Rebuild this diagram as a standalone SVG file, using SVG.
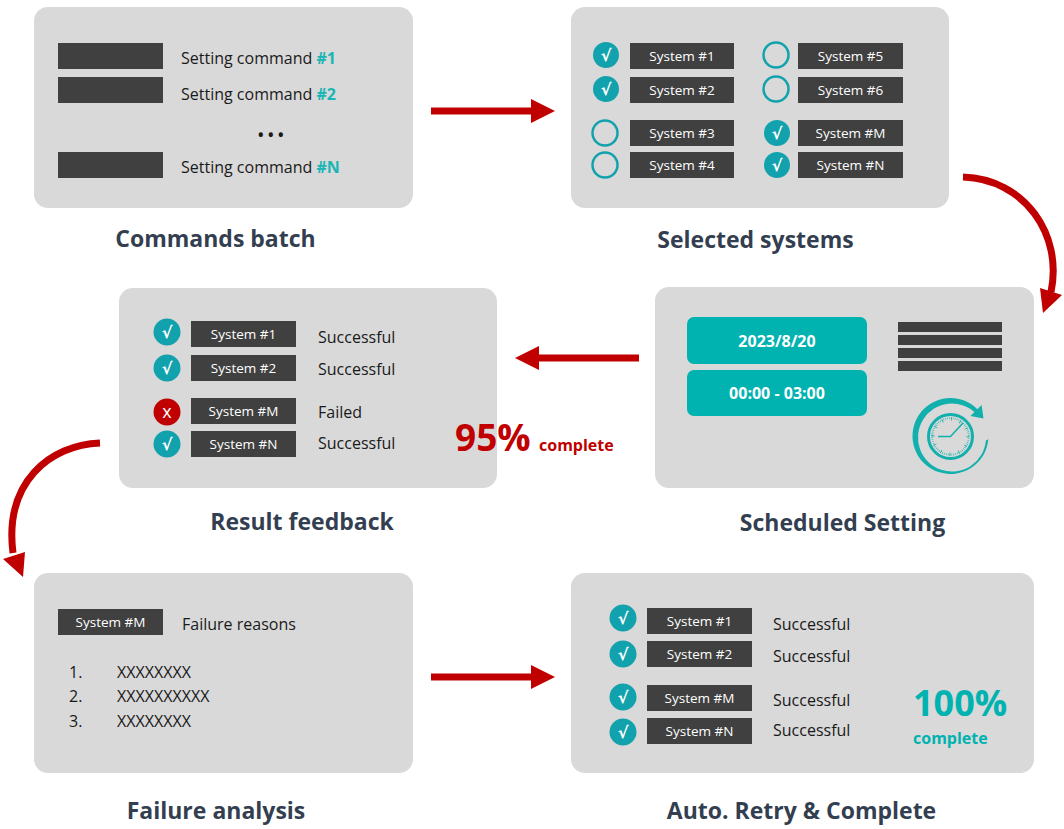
<svg xmlns="http://www.w3.org/2000/svg" width="1064" height="829" viewBox="0 0 1064 829">
<style>
.panel{fill:#d9d9d9}
.bar{fill:#404040}
.body{font-family:"Open Sans","Liberation Sans",sans-serif;font-size:16px;fill:#1a1a1a}
.hash{font-weight:bold;fill:#1ab5b5}
.sys{font-family:"Open Sans","Liberation Sans",sans-serif;font-size:13.5px;fill:#ffffff;text-anchor:middle}
.head{font-family:"Open Sans","Liberation Sans",sans-serif;font-size:23px;font-weight:bold;fill:#333f50;text-anchor:middle}
.on{fill:#12a2ad}
.off{fill:none;stroke:#12a2ad;stroke-width:2.5}
.mark{font-family:"DejaVu Sans","Liberation Sans",sans-serif;font-size:16px;font-weight:bold;fill:#ffffff;text-anchor:middle}
.red{fill:#c00000}
.redline{fill:none;stroke:#c00000;stroke-width:7}
.teal{fill:#00b3b0}
.dtext{font-family:"Open Sans","Liberation Sans",sans-serif;font-size:16px;font-weight:bold;fill:#ffffff;text-anchor:middle}
</style>

<g id="node-commands-batch">
<rect class="panel" x="34" y="7" width="379" height="201" rx="14"/>
<rect class="bar" x="58" y="43" width="105" height="26"/>
<rect class="bar" x="58" y="77" width="105" height="26"/>
<rect class="bar" x="58" y="152" width="105" height="26"/>
<text class="body" x="181" y="64">Setting command <tspan class="hash">#1</tspan></text>
<text class="body" x="181" y="100">Setting command <tspan class="hash">#2</tspan></text>
<text class="body" x="257" y="142" style="font-size:20px;letter-spacing:2.5px">•••</text>
<text class="body" x="181" y="173">Setting command <tspan class="hash">#N</tspan></text>
<text class="head" x="215.5" y="247">Commands batch</text>
</g>

<g id="node-selected-systems">
<rect class="panel" x="571" y="7" width="378" height="201" rx="14"/>
<circle class="on" cx="606" cy="55" r="13"/><text class="mark" x="606" y="61">√</text>
<circle class="on" cx="606" cy="89" r="13"/><text class="mark" x="606" y="95">√</text>
<circle class="off" cx="605" cy="133" r="12.5"/>
<circle class="off" cx="605" cy="165" r="12.5"/>
<circle class="off" cx="776" cy="55" r="12.5"/>
<circle class="off" cx="776" cy="89" r="12.5"/>
<circle class="on" cx="777" cy="133" r="13"/><text class="mark" x="777" y="139">√</text>
<circle class="on" cx="777" cy="165" r="13"/><text class="mark" x="777" y="171">√</text>
<rect class="bar" x="630" y="43" width="104" height="26"/><text class="sys" x="682" y="61">System #1</text>
<rect class="bar" x="630" y="77" width="104" height="26"/><text class="sys" x="682" y="95">System #2</text>
<rect class="bar" x="630" y="120" width="104" height="26"/><text class="sys" x="682" y="138">System #3</text>
<rect class="bar" x="630" y="152" width="104" height="26"/><text class="sys" x="682" y="170">System #4</text>
<rect class="bar" x="798" y="43" width="105" height="26"/><text class="sys" x="850.5" y="61">System #5</text>
<rect class="bar" x="798" y="77" width="105" height="26"/><text class="sys" x="850.5" y="95">System #6</text>
<rect class="bar" x="798" y="120" width="105" height="26"/><text class="sys" x="850.5" y="138">System #M</text>
<rect class="bar" x="798" y="152" width="105" height="26"/><text class="sys" x="850.5" y="170">System #N</text>
<text class="head" x="755.5" y="248">Selected systems</text>
</g>

<g id="node-scheduled-setting">
<rect class="panel" x="655" y="287" width="379" height="201" rx="14"/>
<rect class="teal" x="687" y="317" width="180" height="47" rx="7"/>
<text class="dtext" x="777" y="347">2023/8/20</text>
<rect class="teal" x="687" y="370" width="180" height="46" rx="7"/>
<text class="dtext" x="777" y="399">00:00 - 03:00</text>
<rect class="bar" x="898" y="322" width="104" height="10"/>
<rect class="bar" x="898" y="335" width="104" height="10"/>
<rect class="bar" x="898" y="348" width="104" height="10"/>
<rect class="bar" x="898" y="361" width="104" height="10"/>
<path fill="#12b0ad" d="M988.35,439.31 A38,38 0 1 1 977.37,409.13 L976.04,413.46 A34,34 0 1 0 985.87,440.46 Z"/>
<polygon fill="#12b0ad" points="981.6,404.9 970.4,416.1 983.5,418.5"/>
<circle cx="950.5" cy="436.5" r="22" fill="none" stroke="#12b0ad" stroke-width="3"/>
<circle cx="950.5" cy="436.5" r="18.3" fill="none" stroke="#12b0ad" stroke-width="1.8" stroke-dasharray="0.6 1.316"/>
<circle cx="950.5" cy="436.5" r="17.5" fill="none" stroke="#12b0ad" stroke-width="3.5" stroke-dasharray="0.8 8.363"/>
<path d="M938,436.5 L950.5,436.5 L963,423" fill="none" stroke="#12b0ad" stroke-width="1.6"/>
<text class="head" x="842.5" y="531">Scheduled Setting</text>
</g>

<g id="node-result-feedback">
<rect class="panel" x="119" y="288" width="378" height="200" rx="14"/>
<circle class="on" cx="167" cy="332" r="13.5"/><text class="mark" x="167" y="338">√</text>
<circle class="on" cx="167" cy="368" r="13.5"/><text class="mark" x="167" y="374">√</text>
<circle class="red" cx="167" cy="412" r="13.5"/><text class="mark" x="167" y="418" style="font-family:'Open Sans','Liberation Sans',sans-serif;font-weight:normal;font-size:18px">x</text>
<circle class="on" cx="167" cy="444" r="13.5"/><text class="mark" x="167" y="450">√</text>
<rect class="bar" x="191" y="321" width="105" height="26"/><text class="sys" x="243.5" y="339">System #1</text>
<rect class="bar" x="191" y="355" width="105" height="26"/><text class="sys" x="243.5" y="373">System #2</text>
<rect class="bar" x="191" y="398" width="105" height="26"/><text class="sys" x="243.5" y="416">System #M</text>
<rect class="bar" x="191" y="431" width="105" height="26"/><text class="sys" x="243.5" y="449">System #N</text>
<text class="body" x="318" y="343">Successful</text>
<text class="body" x="318" y="375">Successful</text>
<text class="body" x="318" y="418">Failed</text>
<text class="body" x="318" y="449">Successful</text>
<text x="455" y="451" style="font-family:'Open Sans','Liberation Sans',sans-serif;font-weight:bold;font-size:37px;fill:#c00000">95%</text>
<text x="539" y="451" style="font-family:'Open Sans','Liberation Sans',sans-serif;font-weight:bold;font-size:16px;fill:#c00000">complete</text>
<text class="head" x="302" y="530">Result feedback</text>
</g>

<g id="node-failure-analysis">
<rect class="panel" x="34" y="573" width="379" height="200" rx="14"/>
<rect class="bar" x="58" y="609" width="105" height="26"/><text class="sys" x="110.5" y="627">System #M</text>
<text class="body" x="182" y="630">Failure reasons</text>
<text class="body" x="69" y="678">1.</text><text class="body" x="117" y="678">XXXXXXXX</text>
<text class="body" x="69" y="702">2.</text><text class="body" x="117" y="702">XXXXXXXXXX</text>
<text class="body" x="69" y="727">3.</text><text class="body" x="117" y="727">XXXXXXXX</text>
<text class="head" x="216" y="819">Failure analysis</text>
</g>

<g id="node-retry-complete">
<rect class="panel" x="571" y="573" width="463" height="200" rx="14"/>
<circle class="on" cx="623" cy="618" r="13.5"/><text class="mark" x="623" y="624">√</text>
<circle class="on" cx="623" cy="654" r="13.5"/><text class="mark" x="623" y="660">√</text>
<circle class="on" cx="623" cy="697" r="13.5"/><text class="mark" x="623" y="703">√</text>
<circle class="on" cx="623" cy="732" r="13.5"/><text class="mark" x="623" y="738">√</text>
<rect class="bar" x="647" y="608" width="105" height="26"/><text class="sys" x="699.5" y="626">System #1</text>
<rect class="bar" x="647" y="641" width="105" height="26"/><text class="sys" x="699.5" y="659">System #2</text>
<rect class="bar" x="647" y="685" width="105" height="26"/><text class="sys" x="699.5" y="703">System #M</text>
<rect class="bar" x="647" y="718" width="105" height="26"/><text class="sys" x="699.5" y="736">System #N</text>
<text class="body" x="773" y="630">Successful</text>
<text class="body" x="773" y="662">Successful</text>
<text class="body" x="773" y="706">Successful</text>
<text class="body" x="773" y="736">Successful</text>
<text x="913" y="716" style="font-family:'Open Sans','Liberation Sans',sans-serif;font-weight:bold;font-size:36px;fill:#00b3b0">100%</text>
<text x="913" y="744" style="font-family:'Open Sans','Liberation Sans',sans-serif;font-weight:bold;font-size:16px;fill:#00b3b0">complete</text>
<text class="head" x="801.5" y="819">Auto. Retry &amp; Complete</text>
</g>

<g id="connectors">
<line class="redline" x1="431" y1="111" x2="533" y2="111"/>
<polygon class="red" points="531,99 555,111 531,123"/>
<path class="redline" d="M963,177 C1025,179 1063,235 1051,292"/>
<polygon class="red" points="1040,288 1062,295 1043,313"/>
<line class="redline" x1="639" y1="358" x2="537" y2="358"/>
<polygon class="red" points="539,346 515,358 539,370"/>
<path class="redline" d="M100,443 C50,445 4,482 13,553"/>
<polygon class="red" points="3,559 25,552 23,577"/>
<line class="redline" x1="431" y1="677" x2="533" y2="677"/>
<polygon class="red" points="531,665 555,677 531,689"/>
</g>
</svg>
